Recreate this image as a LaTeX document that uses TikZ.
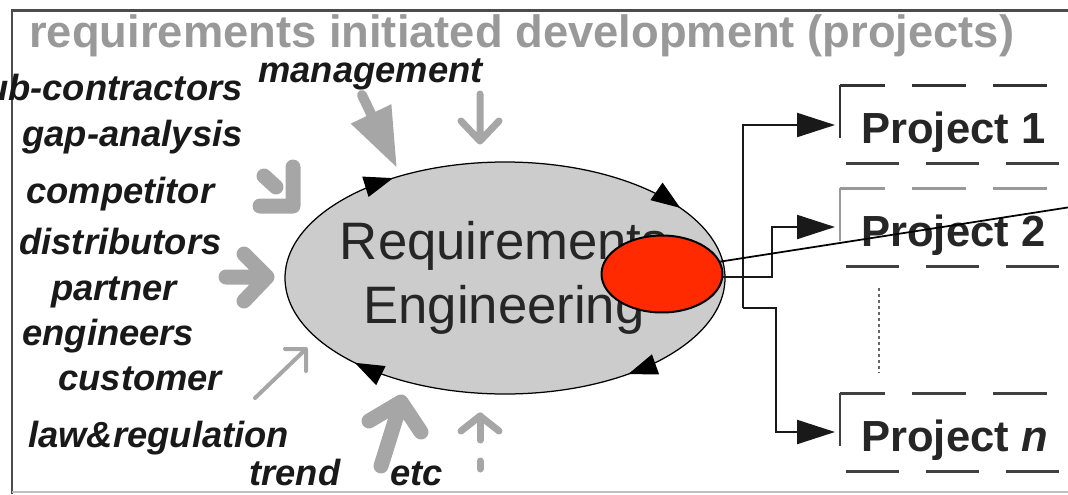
\documentclass[tikz,border=0pt]{standalone}
\usepackage{fontspec}
\setmainfont{Liberation Sans}
\usetikzlibrary{arrows.meta,decorations.markings,shapes.geometric}

\definecolor{spotred}{RGB}{255,42,0}

\tikzset{
  lbl/.style={font=\fontsize{20.7}{24}\selectfont\bfseries\itshape, text=black!90, inner sep=0pt},
  proj/.style={font=\fontsize{24.8}{28}\selectfont\bfseries, text=black!85, inner sep=0pt, anchor=base west},
  feed/.style={draw=black!35, line cap=round, line join=round},
  link/.style={draw=black!90, line width=0.045cm, -{Triangle[length=0.76cm,width=0.48cm]}},
  loop tip/.style={decoration={markings,
      mark=at position 0.134 with {\arrow{Triangle[length=0.58cm,width=0.42cm]}},
      mark=at position 0.393 with {\arrow{Triangle[length=0.58cm,width=0.42cm]}},
      mark=at position 0.645 with {\arrow{Triangle[length=0.58cm,width=0.42cm]}},
      mark=at position 0.920 with {\arrow{Triangle[length=0.58cm,width=0.42cm]}}},
    postaction=decorate},
}

\begin{document}
\begin{tikzpicture}[x=0.02cm, y=-0.02cm]
\useasboundingbox (0,0) rectangle (1068,494);

% frame
\draw[black!70, line width=0.06cm] (12,494) -- (12,10) -- (1068,10);
\draw[black!25, line width=0.04cm] (12,492) -- (1068,492);

\node[anchor=base west, inner sep=0pt, font=\fontsize{25.8}{30}\selectfont\bfseries, text=black!40] (title) at (29,47) {requirements initiated development (projects)};

% sources
\node[lbl, anchor=base west] (mgmt) at (258,82) {management};
\node[lbl, anchor=base east] (subcon) at (243,100) {sub-contractors};
\node[lbl, anchor=base west] (gap) at (22,146) {gap-analysis};
\node[lbl, anchor=base west] (comp) at (26,203) {competitor};
\node[lbl, anchor=base west] (distr) at (19,254) {distributors};
\node[lbl, anchor=base west] (partner) at (51,300) {partner};
\node[lbl, anchor=base west] (eng) at (22,345) {engineers};
\node[lbl, anchor=base west] (cust) at (58,390) {customer};
\node[lbl, anchor=base west] (law) at (28,447) {law\&regulation};
\node[lbl, anchor=base west] (trend) at (249,485) {trend};
\node[lbl, anchor=base west] (etc) at (390,485) {etc};

% grey inputs
\coordinate (mgmtA) at (362,95);
\coordinate (mgmtATip) at (397,168);
\coordinate (mgmtB) at (480,94);
\coordinate (mgmtBTip) at (480,141);
\coordinate (gapTip) at (293,206);
\coordinate (distrTip) at (267,277);
\coordinate (custTip) at (306,349);
\coordinate (trendTip) at (401,402);
\coordinate (etcTip) at (480,416);

\draw[feed, line width=0.2cm, -{Triangle[length=1.2cm,width=0.84cm]}] (mgmtA) -- (mgmtATip);
\draw[feed, line width=0.14cm] (mgmtB) -- (mgmtBTip) (461,121) -- (mgmtBTip) -- (499,121);
\draw[feed, line width=0.3cm] (264,176) -- (276,187) (293,167) -- (gapTip) -- (260,206);
\draw[feed, line width=0.3cm] (226,277) -- (distrTip) (244,254) -- (distrTip) -- (244,301);
\draw[feed, line width=0.08cm] (255,398) -- (custTip) (285,349) -- (custTip) -- (306,371);
\draw[feed, line width=0.3cm] (381,466) -- (trendTip) (369,421) -- (trendTip) -- (421,432);
\draw[feed, line width=0.14cm, dash pattern=on 0.16cm off 0.42cm on 0.5cm off 0.5cm] (480,469) -- (etcTip);
\draw[feed, line width=0.14cm] (461,431) -- (etcTip) -- (499,431);

% Requirements Engineering
\draw[fill=black!20, line width=0.025cm, loop tip] (505,278) ellipse [x radius=220, y radius=116];
\node[font=\fontsize{30}{36.8}\selectfont, text=black!85, align=center, inner sep=0pt] (re) at (504,278) {Requirements\\Engineering};

% projects
\foreach \ty/\name/\txt/\tc in {85/p1/Project 1/black!80, 188/p2/Project 2/black!40, 393/pn/Project \textit{n}/black!75}{
  \node[proj] (\name) at (861,\ty+58) {\txt};
  \draw[\tc, line width=0.05cm] (840,\ty+53) -- (840,\ty);
  \draw[\tc, line width=0.06cm, dash pattern=on 1.08cm off 0.54cm, dash phase=0.18cm] (840,\ty) -- (1068,\ty);
  \draw[black!75, line width=0.06cm, dash pattern=on 1.06cm off 0.54cm] (846,\ty+78) -- (1068,\ty+78);
}
\draw[black!60, line width=0.04cm, dash pattern=on 0.06cm off 0.06cm] (879,288) -- (879,373);

\node[ellipse, draw, line width=0.04cm, fill=spotred, minimum width=2.42cm, minimum height=1.54cm, inner sep=0pt] (spot) at (662,274) {};

\coordinate (turn2) at (772,277);
\coordinate (hubA) at (743,308);
\coordinate (hubB) at (776,308);
\coordinate (p1in) at (835,125);
\coordinate (p2in) at (835,227);
\coordinate (pnin) at (835,432);
\draw[link] (spot.east |- turn2) -- (turn2) |- (p2in);
\draw[link] (hubA) |- (p1in);
\draw[link] (hubA) -- (hubB) |- (pnin);

\coordinate (far) at (1090,204);
\draw[line width=0.035cm] (spot.12) -- (far);
\end{tikzpicture}
\end{document}
